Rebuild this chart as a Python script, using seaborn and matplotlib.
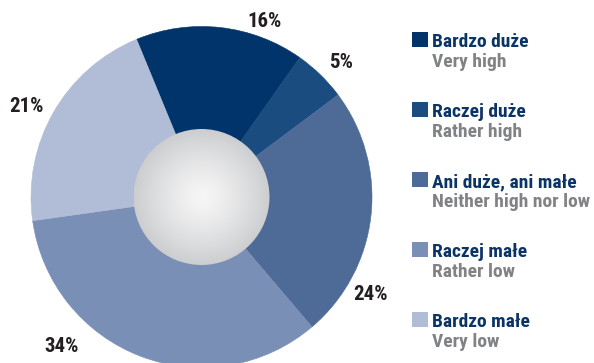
import numpy as np
import matplotlib
matplotlib.use("Agg")
import matplotlib.pyplot as plt
from matplotlib.patches import Circle, Rectangle
import seaborn as sns

# Survey shares (percent), in drawing order clockwise
labels_pl = ["Bardzo duże", "Raczej duże", "Ani duże, ani małe", "Raczej małe", "Bardzo małe"]
labels_en = ["Very high", "Rather high", "Neither high nor low", "Rather low", "Very low"]
shares = [16, 5, 24, 34, 21]
slice_colors = ["#00346a", "#1b4c80", "#4e6a97", "#7a8fb5", "#b1bdd6"]

# Where the percentage labels sit, in units of the pie radius
label_x = [0.37, 0.82, 0.99, -0.82, -1.026]
label_y = [1.03, 0.786, -0.57, -0.875, 0.528]

sns.set_theme(style="white")
plt.rcParams["font.family"] = ["Roboto Condensed", "Liberation Sans Narrow", "Roboto", "DejaVu Sans"]
plt.rcParams["font.weight"] = "bold"

W, H = 594, 363
fig = plt.figure(figsize=(W / 100, H / 100), dpi=100)
fig.patch.set_facecolor("white")

# Pie axes: centre at (202, 197) px, radius 170.5 px
cx, cy, R = 201.5, 197.0, 170.5
ax = fig.add_axes([(cx - R) / W, (H - cy - R) / H, 2 * R / W, 2 * R / H])
palette = sns.color_palette(slice_colors)
wedges, _ = ax.pie(
    shares,
    colors=palette,
    startangle=112.4,
    counterclock=False,
    radius=1.0,
    wedgeprops=dict(linewidth=0.4, edgecolor="none", antialiased=True),
)
for w, c in zip(wedges, palette):
    w.set_edgecolor(c)

# Shaded centre disc
r_in = 68 / R
n = 300
g = np.linspace(-r_in, r_in, n)
xx, yy = np.meshgrid(g, g)
dist = np.sqrt(xx ** 2 + yy ** 2) / r_in
lo = np.array([0.80, 0.805, 0.815])
hi = np.array([0.965, 0.965, 0.965])
t = np.clip(dist, 0, 1) ** 1.3
img = hi[None, None, :] * (1 - t[..., None]) + lo[None, None, :] * t[..., None]
disc = Circle((0, 0), r_in, transform=ax.transData, facecolor="none", edgecolor="none")
ax.add_patch(disc)
im = ax.imshow(img, extent=[-r_in, r_in, -r_in, r_in], origin="lower", zorder=3, interpolation="bilinear")
im.set_clip_path(disc)

for x, y, v in zip(label_x, label_y, shares):
    ax.text(x, y, f"{v}%", ha="center", va="center", fontsize=15,
            fontweight="bold", color="#231f20")

ax.set_xlim(-1, 1)
ax.set_ylim(-1, 1)
ax.set_aspect("equal")
ax.axis("off")

# Legend, drawn in pixel positions on the figure
navy = "#0b3466"
grey = "#808285"
sq_left, sq_size, text_left = 412, 16, 432
for i, (pl, en, c) in enumerate(zip(labels_pl, labels_en, palette)):
    top = 32 + 70 * i
    fig.patches.append(Rectangle((sq_left / W, 1 - (top + 15) / H), sq_size / W, 15 / H,
                                 transform=fig.transFigure, facecolor=c, edgecolor="none"))
    fig.text(text_left / W, 1 - (top + 15) / H, pl, ha="left", va="baseline",
             fontsize=14, fontweight="bold", color=navy)
    fig.text(text_left / W, 1 - (top + 35) / H, en, ha="left", va="baseline",
             fontsize=14, fontweight="bold", color=grey)

fig.savefig("out.png", dpi=100, facecolor="white")
